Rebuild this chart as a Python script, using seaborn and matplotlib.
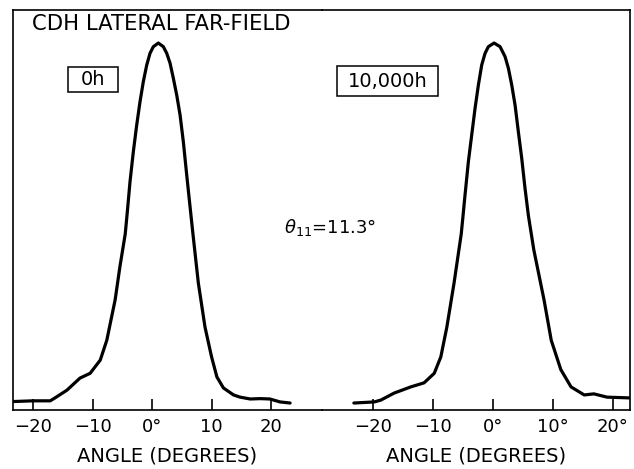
import matplotlib
matplotlib.use("Agg")
import matplotlib.pyplot as plt
from matplotlib.patches import Rectangle
import seaborn as sns
import pandas as pd

# Lateral far-field intensity (relative) versus angle, before and after aging
angle_0h = [-23.4, -20.0, -17.1, -16.3, -14.3, -12.1, -10.4, -8.7, -7.6, -6.2,
            -5.4, -4.5, -4.15, -3.70, -3.14, -2.57, -2.02, -1.46, -0.89, -0.34,
            0.22, 1.06, 1.90, 2.47, 3.03, 3.58, 4.15, 4.71, 5.26, 5.83, 6.4,
            6.94, 7.78, 8.9, 10.0, 10.9, 12.0, 13.7, 14.8, 16.5, 18.2, 19.8,
            21.5, 23.2]
intensity_0h = [0.023, 0.025, 0.025, 0.033, 0.054, 0.087, 0.100, 0.136, 0.190,
                0.300, 0.390, 0.480, 0.540, 0.622, 0.704, 0.777, 0.840, 0.895,
                0.940, 0.972, 0.990, 1.000, 0.990, 0.972, 0.945, 0.904, 0.858,
                0.804, 0.731, 0.640, 0.552, 0.470, 0.346, 0.226, 0.145, 0.090,
                0.060, 0.041, 0.035, 0.030, 0.031, 0.030, 0.022, 0.019]

angle_10kh = [-23.2, -19.8, -18.7, -16.5, -13.7, -11.5, -9.8, -8.7, -7.7, -6.5,
              -5.3, -4.94, -4.67, -4.11, -3.56, -3.0, -2.44, -1.89, -1.33, -0.78,
              0.17, 1.17, 2.0, 2.56, 3.11, 3.67, 4.22, 4.78, 5.33, 5.89, 6.8,
              8.5, 9.7, 11.3, 13.0, 15.2, 16.8, 19.0, 22.7]
intensity_10kh = [0.019, 0.022, 0.027, 0.046, 0.063, 0.074, 0.100, 0.145, 0.226,
                  0.346, 0.480, 0.540, 0.586, 0.677, 0.749, 0.822, 0.886, 0.940,
                  0.972, 0.990, 1.000, 0.990, 0.963, 0.931, 0.886, 0.831, 0.758,
                  0.686, 0.604, 0.530, 0.436, 0.300, 0.190, 0.110, 0.063, 0.041,
                  0.044, 0.035, 0.033]

ticks = [-20, -10, 0, 10, 20]
tick_labels_0h = ["\u221220", "\u221210", "0\u00b0", "10", "20"]
tick_labels_10kh = ["\u221220", "\u221210", "0\u00b0", "10\u00b0", "20\u00b0"]

sns.set_style("white")
plt.rcParams["font.family"] = ["DejaVu Sans"]
plt.rcParams["text.color"] = "black"
plt.rcParams["xtick.color"] = "black"
plt.rcParams["axes.labelcolor"] = "black"

fig = plt.figure(figsize=(6.34, 4.69), dpi=100)
ax_l = fig.add_axes([0.0205, 0.1258, 0.4875, 0.8529])
ax_r = fig.add_axes([0.508, 0.1258, 0.4857, 0.8529])

df_l = pd.DataFrame({"angle": angle_0h, "intensity": intensity_0h})
df_r = pd.DataFrame({"angle": angle_10kh, "intensity": intensity_10kh})

for ax, df, labels, xlim in [
    (ax_l, df_l, tick_labels_0h, (-23.36, 28.57)),
    (ax_r, df_r, tick_labels_10kh, (-28.5, 22.83)),
]:
    ax.patch.set_alpha(0)
    sns.lineplot(data=df, x="angle", y="intensity", ax=ax, sort=False,
                 estimator=None, color="black", linewidth=2.3,
                 solid_joinstyle="round", solid_capstyle="round")
    ax.set_xlim(*xlim)
    ax.set_ylim(0, 1.09)
    ax.set_xticks(ticks)
    ax.set_xticklabels(labels, fontsize=13)
    ax.set_yticks([])
    ax.set_xlabel("ANGLE (DEGREES)", fontsize=14, labelpad=7)
    ax.set_ylabel("")
    ax.tick_params(axis="x", direction="in", length=8, width=1.2, pad=6,
                   bottom=True, top=False)
    for s in ax.spines.values():
        s.set_color("black")
        s.set_linewidth(1.2)

ax_l.spines["right"].set_visible(False)
ax_r.spines["left"].set_visible(False)

ax_l.text(0.062, 0.965, "CDH LATERAL FAR-FIELD", transform=ax_l.transAxes,
          fontsize=15.2, ha="left", va="center")

# boxed labels for the aging time
ax_l.add_patch(Rectangle((0.178, 0.795), 0.162, 0.0625, transform=ax_l.transAxes,
                         fill=False, ec="black", lw=1.1))
ax_l.text(0.259, 0.826, "0h", transform=ax_l.transAxes, fontsize=14,
          ha="center", va="center")
ax_r.add_patch(Rectangle((0.0487, 0.785), 0.328, 0.075, transform=ax_r.transAxes,
                         fill=False, ec="black", lw=1.1))
ax_r.text(0.213, 0.822, "10,000h", transform=ax_r.transAxes, fontsize=14,
          ha="center", va="center")

fig.text(284 / 634, 1 - 227 / 469,
         r"$\theta_{\mathregular{11}}$" + "=11.3\u00b0",
         fontsize=13, ha="left", va="center")

fig.savefig("out.png", dpi=100)
